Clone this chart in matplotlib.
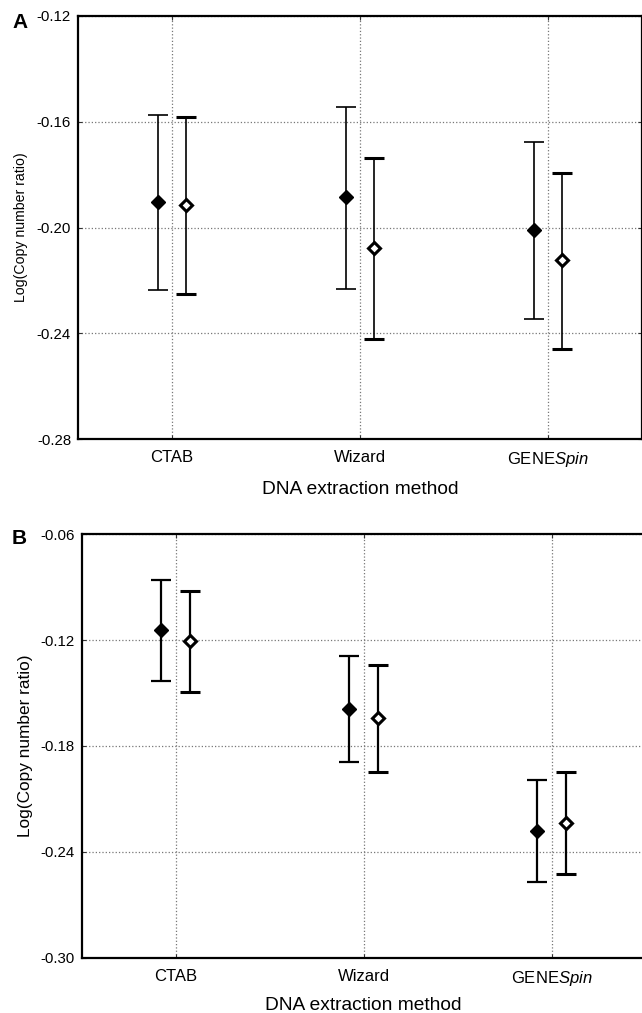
import matplotlib
matplotlib.use('Agg')
import matplotlib.pyplot as plt
import numpy as np

plt.rcParams['font.family'] = ['Liberation Sans', 'DejaVu Sans']
plt.rcParams['mathtext.fontset'] = 'custom'
plt.rcParams['mathtext.rm'] = 'Liberation Sans'
plt.rcParams['mathtext.it'] = 'Liberation Sans:italic'
plt.rcParams['axes.unicode_minus'] = False

# extraction methods
categories = ['CTAB', 'Wizard', 'GENE$\\mathit{Spin}$']

# panel A: mean and interval limits (filled and open diamonds)
a_filled_mean = [-0.1905, -0.1886, -0.2009]
a_filled_lo = [-0.2237, -0.2233, -0.2346]
a_filled_hi = [-0.1574, -0.1544, -0.1678]
a_open_mean = [-0.1916, -0.2076, -0.2123]
a_open_lo = [-0.2250, -0.2421, -0.2459]
a_open_hi = [-0.1584, -0.1739, -0.1793]
a_yticks = [-0.28, -0.24, -0.20, -0.16, -0.12]

# panel B
b_filled_mean = [-0.1143, -0.1590, -0.2280]
b_filled_lo = [-0.1433, -0.1893, -0.2571]
b_filled_hi = [-0.0857, -0.1288, -0.1993]
b_open_mean = [-0.1205, -0.1643, -0.2237]
b_open_lo = [-0.1496, -0.1947, -0.2527]
b_open_hi = [-0.0920, -0.1339, -0.1949]
b_yticks = [-0.30, -0.24, -0.18, -0.12, -0.06]

fig = plt.figure(figsize=(6.42, 10.13), dpi=100)
ax_a = fig.add_axes([0.1215, 0.5663, 0.8785, 0.4182])
ax_b = fig.add_axes([0.1273, 0.0546, 0.8785, 0.4180])


def draw_panel(ax, fm, flo, fhi, om, olo, ohi, yticks, lw, ylab_size, ylab_x, xlab_pad):
    x = np.arange(len(categories)) + 0.5
    off = 0.077
    fm, flo, fhi = np.array(fm), np.array(flo), np.array(fhi)
    om, olo, ohi = np.array(om), np.array(olo), np.array(ohi)
    ax.errorbar(x - off, fm, yerr=[fm - flo, fhi - fm], fmt='D', color='black',
                ms=7, capsize=7, elinewidth=lw, capthick=lw, zorder=3)
    ax.errorbar(x + off, om, yerr=[om - olo, ohi - om], fmt='D', color='black',
                mfc='white', mec='black', mew=2.2, ms=6.5, capsize=7,
                elinewidth=lw, capthick=lw, zorder=3)
    ax.set_xlim(0, 3)
    ax.set_ylim(yticks[0], yticks[-1])
    ax.set_xticks(x)
    ax.set_xticklabels(categories, fontsize=12)
    ax.set_yticks(yticks)
    ax.set_yticklabels(['%.2f' % t for t in yticks], fontsize=10.8)
    ax.tick_params(axis='both', direction='in', length=3, width=0.8,
                   top=True, right=True, color='#333333')
    ax.tick_params(axis='x', pad=8)
    ax.tick_params(axis='y', pad=5)
    ax.grid(True, linestyle=':', color='#777777', linewidth=0.9)
    ax.set_axisbelow(True)
    for s in ['left', 'top', 'bottom', 'right']:
        ax.spines[s].set_linewidth(1.6)
    ax.set_xlabel('DNA extraction method', fontsize=13.8, labelpad=xlab_pad)
    ax.set_ylabel('Log(Copy number ratio)', fontsize=ylab_size)
    # put the label's right edge at the measured pixel column
    x0 = ax.get_position().x0 * fig.get_figwidth() * fig.dpi
    w = ax.get_position().width * fig.get_figwidth() * fig.dpi
    ax.yaxis.set_label_coords(-(x0 - ylab_x) / w, 0.5)


draw_panel(ax_a, a_filled_mean, a_filled_lo, a_filled_hi,
           a_open_mean, a_open_lo, a_open_hi, a_yticks, 1.2, 10.2, 28, 8)
draw_panel(ax_b, b_filled_mean, b_filled_lo, b_filled_hi,
           b_open_mean, b_open_lo, b_open_hi, b_yticks, 1.6, 12.4, 33, 6.5)

fig.text(12 / 642, 1 - 23 / 1013, 'A', fontsize=15, fontweight='bold', va='center', ha='left')
fig.text(12 / 642, 1 - 539 / 1013, 'B', fontsize=15, fontweight='bold', va='center', ha='left')

fig.savefig('out.png', dpi=100)
